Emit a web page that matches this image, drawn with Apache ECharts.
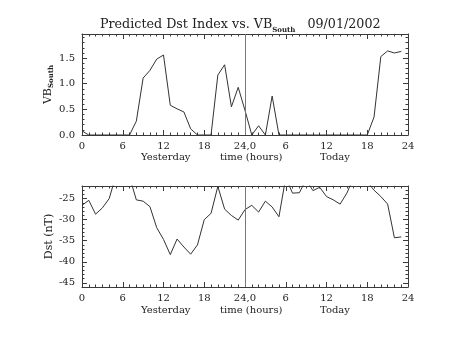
<!DOCTYPE html>
<html>
<head>
<meta charset="utf-8">
<script src="https://cdn.jsdelivr.net/npm/echarts@6/dist/echarts.min.js"></script>
<style>
  html, body { margin: 0; padding: 0; background: #fff; }
  #chart { width: 453px; height: 340px; }
</style>
</head>
<body>
<div id="chart"></div>
<script>
// Hour index across two days: 0-23 yesterday, 24-47 today
const hours = [0,1,2,3,4,5,6,7,8,9,10,11,12,13,14,15,16,17,18,19,20,21,22,23,
               24,25,26,27,28,29,30,31,32,33,34,35,36,37,38,39,40,41,42,43,44,45,46,47];

// Southward solar-wind electric field VB_South, hourly
const vbSouth = [0.08, 0, 0, 0, 0, 0, 0, 0, 0.27, 1.11, 1.26, 1.48, 1.56, 0.58, 0.51, 0.45,
                 0.12, 0, 0, 0, 1.17, 1.37, 0.55, 0.93, 0.48, 0, 0.18, 0, 0.76, 0, 0, 0,
                 0, 0, 0, 0, 0, 0, 0, 0, 0, 0, 0, 0.35, 1.53, 1.64, 1.60, 1.63];

// Predicted Dst index (nT), hourly
const dst = [-26.6, -25.4, -28.7, -27.2, -25.0, -19.5, -18.0, -19.8, -25.3, -25.6, -26.9, -31.9,
             -34.7, -38.3, -34.6, -36.5, -38.2, -36.0, -30.0, -28.5, -22.1, -27.5, -29.0, -30.1,
             -27.6, -26.6, -28.2, -25.6, -27.0, -29.3, -20.0, -23.7, -23.6, -20.5, -23.1, -22.3,
             -24.5, -25.3, -26.3, -23.7, -20.0, -19.5, -21.0, -23.0, -24.5, -26.3, -34.3, -34.1];

// Axis tick values
const vbTicks = [0, 0.5, 1.0, 1.5];
const vbMinor = [0.1,0.2,0.3,0.4,0.6,0.7,0.8,0.9,1.1,1.2,1.3,1.4,1.6,1.7,1.8,1.9];
const dstTicks = [-45, -40, -35, -30, -25];
const dstMinor = [-46,-44,-43,-42,-41,-39,-38,-37,-36,-34,-33,-32,-31,-29,-28,-27,-26,-24,-23];
const vbRange = [0, 1.97];
const dstRange = [-46, -22];

const FONT = 'DejaVu Serif';
const INK = '#3a3a3a';

function hourLabel(v) {
  if (v === 24) return '24,0';
  return String(v > 24 ? v - 24 : v);
}

function xAxes(gridIndex) {
  const base = {
    gridIndex, type: 'value', min: 0, max: 48, interval: 6,
    axisLine: { show: true, onZero: false, lineStyle: { color: INK, width: 1 } },
    axisTick: { show: true, inside: true, length: 5, lineStyle: { color: INK } },
    minorTick: { show: true, splitNumber: 6, length: 2.5, lineStyle: { color: INK } },
    splitLine: { show: false }, minorSplitLine: { show: false }
  };
  return [
    Object.assign({}, base, {
      position: 'bottom',
      axisLabel: { show: true, formatter: hourLabel, fontFamily: FONT, fontSize: 10, color: '#222', margin: 6 }
    }),
    Object.assign({}, base, { position: 'top', axisLabel: { show: false } })
  ];
}

function yAxes(gridIndex, range, ticks, minor, fmt, name) {
  const common = {
    gridIndex, type: 'value', min: range[0], max: range[1],
    splitLine: { show: false }
  };
  return [
    Object.assign({}, common, {
      position: 'left',
      name: name, nameLocation: 'middle', nameRotate: 90, nameGap: 27,
      nameMoveOverlap: false,
      nameTextStyle: {
        fontFamily: FONT, fontSize: 11, color: '#222',
        rich: {
          m: { fontFamily: FONT, fontSize: 11, color: '#222' },
          s: { fontFamily: FONT, fontSize: 7, fontWeight: 'bold', color: '#222', padding: [7, 0, 0, 0] }
        }
      },
      axisLine: { show: true, onZero: false, lineStyle: { color: INK, width: 1 } },
      axisTick: { show: true, inside: true, length: 5, customValues: ticks, lineStyle: { color: INK } },
      axisLabel: { show: true, customValues: ticks, formatter: fmt, fontFamily: FONT, fontSize: 10, color: '#222', margin: 7 }
    }),
    Object.assign({}, common, {
      position: 'right',
      axisLine: { show: true, onZero: false, lineStyle: { color: INK, width: 1 } },
      axisTick: { show: true, inside: true, length: 5, customValues: ticks, lineStyle: { color: INK } },
      axisLabel: { show: false }
    }),
    Object.assign({}, common, {
      position: 'left',
      axisLine: { show: false, onZero: false },
      axisTick: { show: true, inside: true, length: 2.5, customValues: minor, lineStyle: { color: INK } },
      axisLabel: { show: false }
    }),
    Object.assign({}, common, {
      position: 'right',
      axisLine: { show: false, onZero: false },
      axisTick: { show: true, inside: true, length: 2.5, customValues: minor, lineStyle: { color: INK } },
      axisLabel: { show: false }
    })
  ];
}

const midLine = {
  silent: true, symbol: 'none', label: { show: false },
  lineStyle: { color: '#777', type: 'solid', width: 1 },
  data: [{ xAxis: 24 }]
};

const captionStyle = { fontFamily: FONT, fontSize: 10, fill: '#222' };

const chart = echarts.init(document.getElementById('chart'), null, { renderer: 'canvas' });
chart.setOption({
  animation: false,
  backgroundColor: '#fff',
  title: {
    text: '{m|Predicted Dst Index vs. VB}{s|South}{m|   09/01/2002}',
    left: 100, top: 16, padding: 0,
    textStyle: {
      fontWeight: 'normal',
      rich: {
        m: { fontFamily: FONT, fontSize: 12.7, fontWeight: 'normal', color: '#222' },
        s: { fontFamily: FONT, fontSize: 7, fontWeight: 'bold', color: '#222', padding: [11, 0, 0, 0] }
      }
    }
  },
  grid: [
    { left: 82, top: 34, width: 326, height: 101 },
    { left: 82, top: 186, width: 326, height: 101 }
  ],
  xAxis: xAxes(0).concat(xAxes(1)),
  yAxis: yAxes(0, vbRange, vbTicks, vbMinor, v => v.toFixed(1), '{m|VB}{s|South}')
    .concat(yAxes(1, dstRange, dstTicks, dstMinor, v => String(v), '{m|Dst (nT)}')),
  graphic: [
    { type: 'text', left: 141, top: 152, style: Object.assign({ text: 'Yesterday' }, captionStyle) },
    { type: 'text', left: 220, top: 152, style: Object.assign({ text: 'time (hours)' }, captionStyle) },
    { type: 'text', left: 320, top: 152, style: Object.assign({ text: 'Today' }, captionStyle) },
    { type: 'text', left: 141, top: 305, style: Object.assign({ text: 'Yesterday' }, captionStyle) },
    { type: 'text', left: 220, top: 305, style: Object.assign({ text: 'time (hours)' }, captionStyle) },
    { type: 'text', left: 320, top: 305, style: Object.assign({ text: 'Today' }, captionStyle) }
  ],
  series: [
    {
      type: 'line', xAxisIndex: 0, yAxisIndex: 0,
      data: hours.map((h, i) => [h, vbSouth[i]]),
      symbol: 'none', clip: true,
      lineStyle: { color: '#333', width: 1 },
      markLine: midLine
    },
    {
      type: 'line', xAxisIndex: 2, yAxisIndex: 4,
      data: hours.map((h, i) => [h, dst[i]]),
      symbol: 'none', clip: true,
      lineStyle: { color: '#333', width: 1 },
      markLine: midLine
    }
  ]
});
</script>
</body>
</html>
